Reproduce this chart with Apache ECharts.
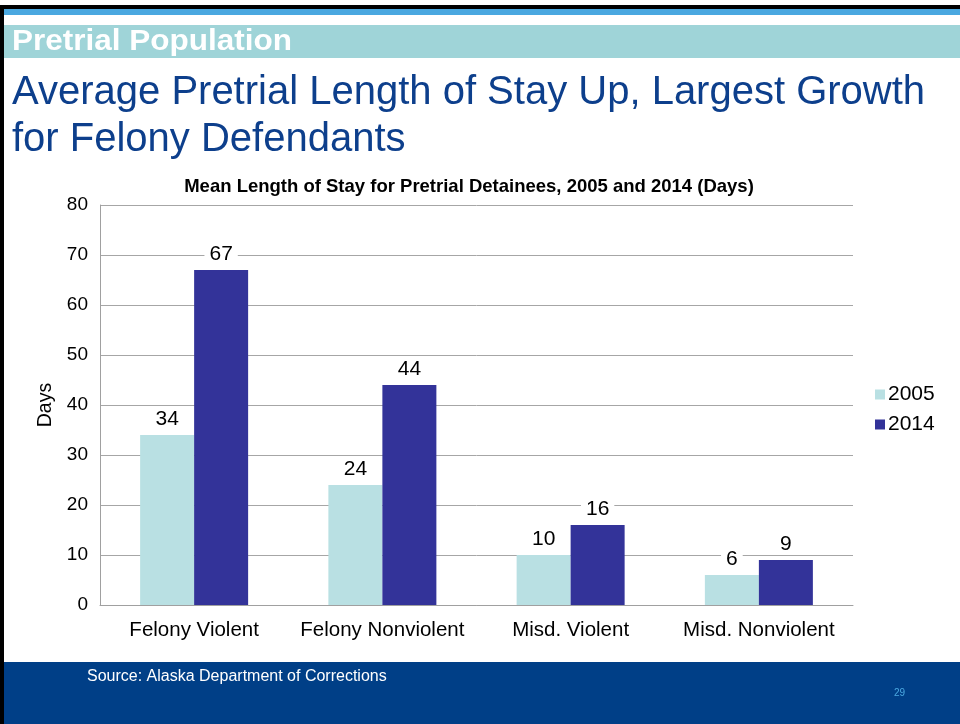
<!DOCTYPE html>
<html><head><meta charset="utf-8">
<script src="https://cdn.jsdelivr.net/npm/echarts@6/dist/echarts.min.js"></script>
<style>html,body{margin:0;padding:0;background:#fff}#c{width:960px;height:724px}</style>
</head><body><div id="c"></div>
<script>
const categories = ['Felony Violent', 'Felony Nonviolent', 'Misd. Violent', 'Misd. Nonviolent'];
const values2005 = [34, 24, 10, 6];
const values2014 = [67, 44, 16, 9];
const seriesNames = ['2005', '2014'];
const yTicks = {min: 0, max: 80, interval: 10};

const F = '"Liberation Sans", Arial, sans-serif';
const chart = echarts.init(document.getElementById('c'));
const label = {show: true, position: 'top', distance: 5, color: '#000', fontSize: 21, fontFamily: F,
  backgroundColor: '#fff', padding: [0, 5, 0, 5]};
chart.setOption({
  animation: false,
  title: {text: 'Mean Length of Stay for Pretrial Detainees, 2005 and 2014 (Days)', left: 464, textAlign: 'center', top: 172,
    textStyle: {fontSize: 18.5, fontWeight: 'bold', color: '#000', fontFamily: F}},
  legend: {orient: 'vertical', left: 870, top: 379, itemWidth: 10, itemHeight: 10, itemGap: 9,
    textStyle: {fontSize: 21, color: '#000', fontFamily: F, padding: [0,0,0,-2]},
    data: seriesNames.map(n => ({name: n, icon: 'rect'}))},
  grid: {left: 100, right: 107, top: 205, bottom: 119, containLabel: false},
  xAxis: {type: 'category', data: categories,
    axisLine: {lineStyle: {color: '#a0a0a0'}}, axisTick: {show: false},
    axisLabel: {interval: 0, fontSize: 20.5, color: '#000', fontFamily: F, margin: 15}},
  yAxis: {type: 'value', min: yTicks.min, max: yTicks.max, interval: yTicks.interval,
    name: 'Days', nameLocation: 'middle', nameGap: 44, nameRotate: 90,
    nameTextStyle: {fontSize: 19.5, color: '#000', fontFamily: F},
    axisLine: {show: true, lineStyle: {color: '#a0a0a0'}}, axisTick: {show: false},
    axisLabel: {fontSize: 19, color: '#000', fontFamily: F, margin: 12},
    splitLine: {lineStyle: {color: '#a6a6a6'}}},
  series: [
    {name: seriesNames[0], type: 'bar', data: values2005, barWidth: 54, barGap: '0%',
      itemStyle: {color: '#b9e0e3'}, label: label},
    {name: seriesNames[1], type: 'bar', data: values2014, barWidth: 54,
      itemStyle: {color: '#333399'}, label: label}
  ],
  graphic: [
    {type: 'rect', shape: {x: 0, y: 5, width: 960, height: 4}, style: {fill: '#000'}, silent: true},
    {type: 'rect', shape: {x: 4, y: 9, width: 956, height: 6}, style: {fill: '#4aa8e0'}, silent: true},
    {type: 'rect', shape: {x: 4, y: 25, width: 956, height: 33}, style: {fill: '#9fd4d8'}, silent: true},
    {type: 'rect', shape: {x: 0, y: 5, width: 4, height: 719}, style: {fill: '#000'}, silent: true},
    {type: 'rect', shape: {x: 4, y: 662, width: 956, height: 62}, style: {fill: '#003f87'}, silent: true},
    {type: 'text', x: 12, y: 27, scaleX: 1.05, style: {text: 'Pretrial Population', fill: '#fff', fontSize: 30, fontWeight: 'bold', fontFamily: F}},
    {type: 'text', left: 12, top: 69, style: {text: 'Average Pretrial Length of Stay Up, Largest Growth\nfor Felony Defendants',
      fill: '#0d3f8c', fontSize: 40, lineHeight: 47, fontFamily: F}},
    {type: 'text', left: 87, top: 669, style: {text: 'Source: Alaska Department of Corrections', fill: '#fff', fontSize: 16, fontFamily: F}},
    {type: 'text', left: 894, top: 688, style: {text: '29', fill: '#4aa8e0', fontSize: 10, fontFamily: F}}
  ]
});
</script></body></html>
